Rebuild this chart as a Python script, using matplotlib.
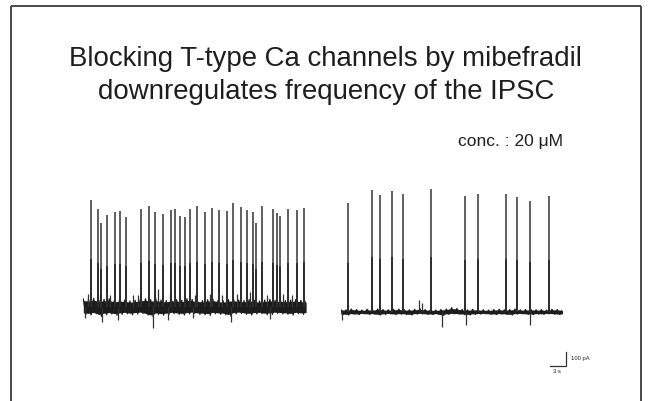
import numpy as np
import matplotlib
matplotlib.use("Agg")
import matplotlib.pyplot as plt
from matplotlib.lines import Line2D

plt.rcParams['font.family'] = ['Liberation Sans', 'DejaVu Sans']

# ---------------- data ----------------
title_lines = ["Blocking T-type Ca channels by mibefradil",
               "downregulates frequency of the IPSC"]
conc_label = "conc. : 20 \u03bcM"
scale_time_s = 3
scale_amp_pA = 100
scale_time_label = "3 s"
scale_amp_label = "100 pA"

# Control trace (before mibefradil): duration (s), IPSC times (s) and amplitudes (pA)
dur1 = 43.1
spike_t1 = [1.43, 2.90, 3.48, 4.53, 6.19, 7.16, 8.20, 11.10, 12.71, 13.93, 15.42,
            16.96, 17.74, 18.70, 19.67, 20.70, 22.05, 23.48, 24.95, 26.19, 27.74,
            29.01, 30.44, 31.61, 32.88, 33.46, 34.62, 36.75, 37.52, 38.10, 39.65,
            41.33, 42.63]
spike_a1 = [802, 733, 632, 690, 710, 722, 677, 733, 760, 715, 698,
            728, 733, 683, 677, 735, 758, 715, 743, 728, 722,
            782, 752, 728, 710, 628, 758, 735, 707, 683, 735,
            728, 745]
down_t1 = [0.3, 3.68, 6.8, 13.55, 16.4, 21.2, 28.6, 36.2]
down_a1 = [-85, -110, -95, -158, -100, -80, -110, -90]
small_t1 = [1.0, 3.23, 5.16, 9.6, 10.64, 14.51, 16.77, 21.6, 24.5, 26.77, 29.67, 32.24,
            35.47, 38.68, 40.3]
small_a1 = [95, 100, 88, 90, 88, 138, 100, 88, 100, 88, 100, 112, 88, 100, 88]
noise_up1 = [60, 55, 65, 50, 58, 62, 48, 55, 52, 45, 50, 58, 62, 55, 60, 52, 48, 58, 55, 50, 62, 57,
             52, 48, 55, 60, 50, 45, 55, 58, 52, 48, 56, 50, 45, 52, 58, 50, 55, 48, 52, 56, 50, 45]
noise_lo1 = [-55, -60, -50, -70, -58, -52, -62, -55, -50, -58, -52, -48, -60, -75, -55, -62, -58, -50, -55, -60, -52, -48,
             -55, -58, -62, -50, -55, -58, -70, -52, -48, -55, -60, -52, -50, -58, -55, -48, -52, -55, -60, -50, -55, -52]

# Mibefradil trace
dur2 = 42.9
spike_t2 = [1.41, 6.11, 7.60, 9.92, 11.99, 17.52, 24.04, 26.50, 31.91, 34.04, 36.56, 40.29]
spike_a2 = [813, 913, 875, 908, 883, 918, 870, 881, 881, 858, 833, 870]
down_t2 = [0.2, 19.5, 24.2, 36.6]
down_a2 = [-60, -112, -100, -100]
small_t2 = [15.15, 15.78]
small_a2 = [90, 68]
noise_up2 = [18, 14, 20, 16, 12, 18, 14, 20, 16, 14, 18, 20, 16, 14, 18, 22, 16, 14, 12, 16, 20, 30,
             24, 16, 14, 18, 16, 14, 12, 16, 18, 14, 16, 20, 14, 16, 18, 14, 16, 12, 18, 16, 14]
noise_lo2 = [-20, -25, -18, -22, -16, -20, -18, -25, -20, -16, -22, -18, -20, -25, -18, -16, -20, -22, -18, -28, -20, -16,
             -18, -22, -25, -20, -18, -16, -20, -22, -18, -20, -25, -18, -16, -20, -22, -18, -20, -16, -18, -22, -20]

# ---------------- figure ----------------
W, H = 654, 401
fig = plt.figure(figsize=(W / 100, H / 100), dpi=100)
fig.patch.set_facecolor('white')

def fx(px):
    return px / W

def fy(py):
    return 1 - py / H

# slide border (open at the bottom)
border_col = '#3a3a3a'
for xs, ys in [([11, 11], [6, H + 5]), ([641, 641], [6, H + 5]), ([11, 641], [6, 6])]:
    fig.add_artist(Line2D([fx(x) for x in xs], [fy(y) for y in ys], color=border_col, lw=1.3,
                          transform=fig.transFigure, solid_capstyle='butt'))

txt_col = '#1e1e1e'
fig.text(fx(325), fy(66), title_lines[0], ha='center', va='baseline', fontsize=19.9, color=txt_col)
fig.text(fx(326), fy(99), title_lines[1], ha='center', va='baseline', fontsize=19.9, color=txt_col)
fig.text(fx(458), fy(146), conc_label, ha='left', va='baseline', fontsize=12.5, color=txt_col)

px_per_s = 5.17
pA_per_px = 7.5
top_px, bot_px = 180, 380


def make_ax(left_px, base_px, dur):
    ax = fig.add_axes([fx(left_px), fy(bot_px), dur * px_per_s / W, (bot_px - top_px) / H])
    ax.set_xlim(0, dur)
    ax.set_ylim(-(bot_px - base_px) * pA_per_px, (base_px - top_px) * pA_per_px)
    ax.axis('off')
    return ax


def draw_trace(ax, dur, up, lo, st, sa, dt, da, smt, sma, band_col):
    up = np.asarray(up, float)
    lo = np.asarray(lo, float)
    tt = np.linspace(0, dur, len(up))
    step = tt[1] - tt[0]
    # dense core of the noise band
    ax.fill_between(tt, lo * 0.8, up * 0.8, color=band_col, lw=0)
    # noisy excursions: zig-zag between the upper and lower envelope values
    zt = np.ravel(np.column_stack([tt, tt + step / 2]))
    zy = np.ravel(np.column_stack([up, lo]))
    ax.plot(zt, zy, color=band_col, lw=0.9)
    ax.vlines(smt, 0, sma, color='#333333', lw=0.9)
    ax.vlines(dt, 0, da, color='#333333', lw=0.9)
    ax.vlines(st, 0, sa, color='#444444', lw=1.2)
    ax.vlines(st, 0, np.asarray(sa) * 0.45, color='#2a2a2a', lw=1.3)


ax1 = make_ax(83.3, 307, dur1)
draw_trace(ax1, dur1, noise_up1, noise_lo1, spike_t1, spike_a1, down_t1, down_a1,
           small_t1, small_a1, '#1c1c1c')

ax2 = make_ax(340.7, 311.7, dur2)
draw_trace(ax2, dur2, noise_up2, noise_lo2, spike_t2, spike_a2, down_t2, down_a2,
           small_t2, small_a2, '#1c1c1c')

# scale bar (in the mibefradil trace's data units)
sb_x0 = 40.5
sb_y0 = -405
ax2.plot([sb_x0, sb_x0 + scale_time_s, sb_x0 + scale_time_s],
         [sb_y0, sb_y0, sb_y0 + scale_amp_pA], color='#333333', lw=0.9, clip_on=False,
         solid_joinstyle='miter')
ax2.text(sb_x0 + scale_time_s + 1.0, sb_y0 + scale_amp_pA * 0.55, scale_amp_label,
         fontsize=4.2, color=txt_col, ha='left', va='center', clip_on=False)
ax2.text(sb_x0 + 1.3, sb_y0 - 25, scale_time_label,
         fontsize=4.2, color=txt_col, ha='center', va='top', clip_on=False)

fig.savefig('out.png', dpi=100, facecolor='white')
